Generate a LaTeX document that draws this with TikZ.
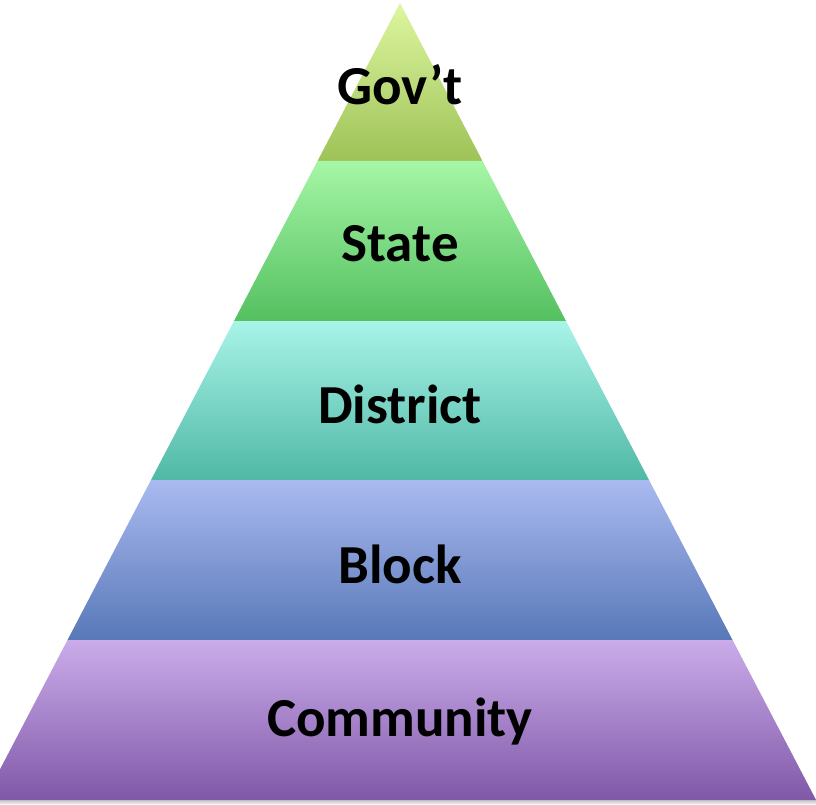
\documentclass[tikz,border=0pt]{standalone}
\usepackage{fontspec}
\setmainfont{Carlito}
\begin{document}
\begin{tikzpicture}[x=1pt,y=-1pt,
  lbl/.style={font=\bfseries\fontsize{55}{62}\selectfont, text=black, inner sep=0pt}]
\useasboundingbox (0,0) rectangle (816,805);
\clip (0,0) rectangle (816,805);
% soft shadow under the pyramid
\fill[black!12] (400,6) -- (-16,804) -- (818,804) -- cycle;
\fill[black!20] (400,5) -- (-16,802) -- (817,802) -- cycle;
% bands
\shade[top color={rgb,255:red,222;green,246;blue,160}, bottom color={rgb,255:red,158;green,194;blue,88}]
  (400,3) -- (317.5,161) -- (482.5,161) -- cycle;
\shade[top color={rgb,255:red,166;green,246;blue,166}, bottom color={rgb,255:red,84;green,192;blue,96}]
  (317.5,161) -- (234,321) -- (566,321) -- (482.5,161) -- cycle;
\shade[top color={rgb,255:red,168;green,244;blue,232}, bottom color={rgb,255:red,80;green,184;blue,166}]
  (234,321) -- (151,480) -- (649,480) -- (566,321) -- cycle;
\shade[top color={rgb,255:red,170;green,186;blue,240}, bottom color={rgb,255:red,88;green,120;blue,184}]
  (151,480) -- (67.5,640) -- (732.5,640) -- (649,480) -- cycle;
\shade[top color={rgb,255:red,202;green,172;blue,234}, bottom color={rgb,255:red,128;green,88;blue,168}]
  (67.5,640) -- (-16,800) -- (816,800) -- (732.5,640) -- cycle;
% labels
\node[lbl] (gov) at (400,85) {Gov’t};
\node[lbl] (state) at (400,244) {State};
\node[lbl] (district) at (400,404) {District};
\node[lbl] (block) at (400,564) {Block};
\node[lbl] (community) at (400,722) {Community};
\end{tikzpicture}
\end{document}
